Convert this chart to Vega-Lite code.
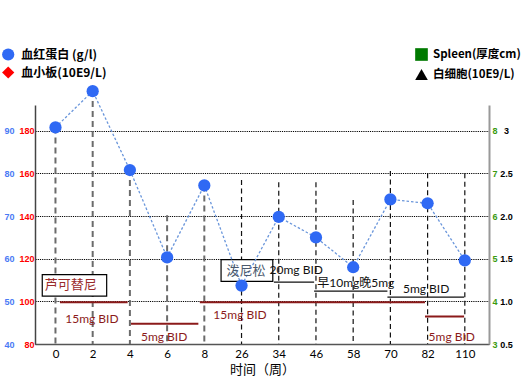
{
  "$schema": "https://vega.github.io/schema/vega-lite/v6.json",
  "width": 454,
  "height": 239,
  "autosize": {"type": "none"},
  "padding": {"left": 35, "top": 105, "right": 35, "bottom": 38},
  "background": "white",
  "config": {"view": {"stroke": null}, "font": "Noto Sans CJK SC"},
  "datasets": {
    "hb": [
      {"week": "0", "i": 0, "hb": 90.8},
      {"week": "2", "i": 1, "hb": 99.3},
      {"week": "4", "i": 2, "hb": 80.8},
      {"week": "6", "i": 3, "hb": 60.3},
      {"week": "8", "i": 4, "hb": 77.2},
      {"week": "26", "i": 5, "hb": 53.7},
      {"week": "34", "i": 6, "hb": 69.8},
      {"week": "46", "i": 7, "hb": 65.0},
      {"week": "58", "i": 8, "hb": 58.0},
      {"week": "70", "i": 9, "hb": 73.9},
      {"week": "82", "i": 10, "hb": 73.0},
      {"week": "110", "i": 11, "hb": 59.6}
    ],
    "drops": [
      {"i": 0, "top": 181.6}, {"i": 1, "top": 198.7}, {"i": 2, "top": 161.6},
      {"i": 3, "top": 140.4}, {"i": 4, "top": 154.4}, {"i": 5, "top": 156.9},
      {"i": 6, "top": 155.9}, {"i": 7, "top": 155.9}, {"i": 8, "top": 147.5},
      {"i": 9, "top": 161.1}, {"i": 10, "top": 160.1}, {"i": 11, "top": 160.1}
    ],
    "doses": [
      {"drug": "芦可替尼", "dose": "15mg BID", "i": 0.12, "i2": 1.94, "lvl": 99.6},
      {"drug": "芦可替尼", "dose": "5mg BID", "i": 2.03, "i2": 3.84, "lvl": 89.5},
      {"drug": "芦可替尼", "dose": "15mg BID", "i": 3.88, "i2": 9.93, "lvl": 99.6},
      {"drug": "芦可替尼", "dose": "5mg BID", "i": 9.93, "i2": 10.98, "lvl": 92.9},
      {"drug": "泼尼松", "dose": "20mg BID", "i": 5.87, "i2": 6.95, "lvl": 109.0},
      {"drug": "泼尼松", "dose": "早10mg晚5mg", "i": 6.95, "i2": 8.92, "lvl": 104.8},
      {"drug": "泼尼松", "dose": "5mg BID", "i": 8.92, "i2": 10.98, "lvl": 102.0}
    ],
    "doseLabels": [
      {"drug": "芦可替尼", "dose": "15mg BID", "i": 0.98, "lvl": 91.8},
      {"drug": "芦可替尼", "dose": "5mg BID", "i": 2.92, "lvl": 83.5},
      {"drug": "芦可替尼", "dose": "15mg BID", "i": 4.96, "lvl": 93.4},
      {"drug": "芦可替尼", "dose": "5mg BID", "i": 10.65, "lvl": 83.5},
      {"drug": "泼尼松", "dose": "20mg BID", "i": 6.47, "lvl": 114.9},
      {"drug": "泼尼松", "dose": "早10mg晚5mg", "i": 8.07, "lvl": 108.8},
      {"drug": "泼尼松", "dose": "5mg BID", "i": 9.96, "lvl": 105.9}
    ],
    "boxes": [
      {"drug": "芦可替尼", "i": -0.355, "i2": 1.376, "top": 112.5, "bottom": 102.5},
      {"drug": "泼尼松", "i": 4.45, "i2": 5.84, "top": 119.6, "bottom": 109.4}
    ],
    "boxLabels": [
      {"drug": "芦可替尼", "i": 0.41, "lvl": 107.5},
      {"drug": "泼尼松", "i": 5.12, "lvl": 114.3}
    ],
    "legendL": [
      {"series": "血红蛋白 (g/l)"},
      {"series": "血小板(10E9/L)"}
    ],
    "legendR": [
      {"series": "Spleen(厚度cm)"},
      {"series": "白细胞(10E9/L)"}
    ]
  },
  "layer": [
    {
      "encoding": {
        "x": {
          "field": "i",
          "type": "quantitative",
          "scale": {"domain": [-0.55, 11.65], "nice": false, "zero": false},
          "axis": {
            "title": "时间（周）",
            "titleFont": "Noto Sans CJK SC",
            "titleFontSize": 13,
            "titleFontWeight": "normal",
            "titleColor": "#000",
            "titlePadding": 4,
            "values": [0, 1, 2, 3, 4, 5, 6, 7, 8, 9, 10, 11],
            "labelExpr": "['0','2','4','6','8','26','34','46','58','70','82','110'][datum.value]",
            "labelFont": "Lato",
            "labelFontSize": 11.5,
            "labelColor": "#000",
            "labelPadding": 4,
            "ticks": false,
            "grid": false,
            "domainColor": "#555",
            "domainWidth": 1.5
          }
        }
      },
      "layer": [
        {
          "data": {"name": "drops"},
          "encoding": {
            "y": {
              "field": "top",
              "type": "quantitative",
              "scale": {"domain": [80, 192.1], "nice": false, "zero": false},
              "axis": {
                "orient": "left",
                "title": null,
                "values": [80, 100, 120, 140, 160, 180],
                "labelColor": "#FF0000",
                "labelFont": "Liberation Sans",
                "labelFontSize": 9,
                "labelFontWeight": "bold",
                "labelPadding": 1,
                "ticks": false,
                "domainColor": "#444",
                "domainWidth": 1.5,
                "grid": true,
                "gridDash": [1.2, 1],
                "gridColor": "#000",
                "gridWidth": 1.2
              }
            },
            "y2": {"datum": 80}
          },
          "layer": [
            {
              "transform": [{"filter": "datum.i <= 4"}],
              "mark": {"type": "rule", "color": "#6b6b6b", "strokeWidth": 2, "strokeDash": [6, 4]}
            },
            {
              "transform": [{"filter": "datum.i > 4"}],
              "mark": {"type": "rule", "color": "#111", "strokeWidth": 1.2, "strokeDash": [5, 3.5]}
            }
          ]
        },
        {
          "data": {"name": "doses"},
          "mark": {"type": "rule"},
          "encoding": {
            "x2": {"field": "i2"},
            "y": {
              "field": "lvl",
              "type": "quantitative",
              "scale": {"domain": [80, 192.1], "nice": false, "zero": false},
              "axis": {
                "orient": "right",
                "title": null,
                "values": [80, 100, 120, 140, 160, 180],
                "labelExpr": "(datum.value-80)/20+3",
                "labelColor": "#3A9A10",
                "labelFont": "Liberation Sans",
                "labelFontSize": 9,
                "labelFontWeight": "bold",
                "labelPadding": 3,
                "ticks": false,
                "grid": false,
                "domainColor": "#999",
                "domainWidth": 2
              }
            },
            "color": {"condition": {"test": "datum.drug == '泼尼松'", "value": "#111"}, "value": "#8B1A1A"},
            "strokeWidth": {"condition": {"test": "datum.drug == '泼尼松'", "value": 1.3}, "value": 2}
          }
        },
        {
          "data": {"name": "boxes"},
          "mark": {"type": "rect", "fill": "white", "stroke": "#000", "strokeWidth": 1.2},
          "encoding": {
            "x2": {"field": "i2"},
            "y": {
              "field": "top",
              "type": "quantitative",
              "scale": {"domain": [80, 192.1], "nice": false, "zero": false},
              "axis": null
            },
            "y2": {"field": "bottom"}
          }
        },
        {
          "data": {"name": "hb"},
          "encoding": {
            "y": {
              "field": "hb",
              "type": "quantitative",
              "scale": {"domain": [40, 96.05], "nice": false, "zero": false},
              "axis": {
                "orient": "left",
                "offset": 20,
                "title": null,
                "values": [40, 50, 60, 70, 80, 90],
                "labelColor": "#4A7AF5",
                "labelFont": "Liberation Sans",
                "labelFontSize": 9,
                "labelFontWeight": "bold",
                "labelPadding": 1,
                "ticks": false,
                "domain": false,
                "grid": false
              }
            }
          },
          "layer": [
            {"mark": {"type": "line", "color": "#6A96DB", "strokeWidth": 1.3, "strokeDash": [2.5, 2], "clip": false}},
            {"mark": {"type": "point", "filled": true, "size": 150, "color": "#2F69F4", "opacity": 1, "clip": false}}
          ]
        },
        {
          "data": {"name": "doseLabels"},
          "mark": {"type": "text", "font": "Lato, Noto Sans CJK SC", "fontSize": 12, "baseline": "middle", "align": "center"},
          "encoding": {
            "text": {"field": "dose"},
            "y": {
              "field": "lvl",
              "type": "quantitative",
              "scale": {"domain": [80, 192.1], "nice": false, "zero": false},
              "axis": {
                "orient": "right",
                "offset": 11,
                "title": null,
                "values": [80, 100, 120, 140, 160, 180],
                "labelExpr": "datum.value == 180 ? '3' : format((datum.value - 60) / 40, '.1f')",
                "labelColor": "#000",
                "labelFont": "Liberation Sans",
                "labelFontSize": 9,
                "labelFontWeight": "bold",
                "labelAlign": "center",
                "labelPadding": 6,
                "ticks": false,
                "domain": false,
                "grid": false
              }
            },
            "color": {"condition": {"test": "datum.drug == '泼尼松'", "value": "#111"}, "value": "#8B1A1A"}
          }
        },
        {
          "data": {"name": "boxLabels"},
          "mark": {"type": "text", "font": "Noto Sans CJK SC", "fontSize": 13, "baseline": "middle", "align": "center"},
          "encoding": {
            "text": {"field": "drug"},
            "y": {
              "field": "lvl",
              "type": "quantitative",
              "scale": {"domain": [80, 192.1], "nice": false, "zero": false},
              "axis": null
            },
            "color": {"condition": {"test": "datum.drug == '泼尼松'", "value": "#4B5A6E"}, "value": "#9A2A2A"}
          }
        }
      ],
      "resolve": {"scale": {"y": "independent"}, "axis": {"y": "independent"}}
    },
    {
      "data": {"name": "legendL"},
      "mark": {"type": "point", "filled": true, "size": 0, "strokeWidth": 0, "opacity": 1, "fillOpacity": 1},
      "encoding": {
        "color": {
          "field": "series",
          "type": "nominal",
          "scale": {"domain": ["血红蛋白 (g/l)", "血小板(10E9/L)"], "range": ["#2F69F4", "#FF0000"]},
          "legend": {
            "orient": "none", "legendX": -33.3, "legendY": -57, "title": null, "padding": 0,
            "symbolSize": 150, "symbolOpacity": 1, "symbolStrokeWidth": 0,
            "labelFont": "Noto Sans CJK SC", "labelFontSize": 12, "labelFontWeight": "bold", "labelColor": "#000",
            "labelOffset": 6.5, "rowPadding": 5
          }
        },
        "shape": {
          "field": "series",
          "type": "nominal",
          "scale": {"domain": ["血红蛋白 (g/l)", "血小板(10E9/L)"], "range": ["circle", "diamond"]}
        }
      }
    },
    {
      "data": {"name": "legendR"},
      "mark": {"type": "point", "filled": true, "size": 0, "strokeWidth": 0, "opacity": 1, "fillOpacity": 1},
      "encoding": {
        "color": {
          "field": "series",
          "type": "nominal",
          "scale": {"domain": ["Spleen(厚度cm)", "白细胞(10E9/L)"], "range": ["#007A00", "#000000"]},
          "legend": {
            "orient": "none", "legendX": 380, "legendY": -57, "title": null, "padding": 0,
            "symbolSize": 160, "symbolOpacity": 1, "symbolStrokeWidth": 0,
            "labelFont": "Noto Sans CJK SC", "labelFontSize": 11.5, "labelFontWeight": "bold", "labelColor": "#000",
            "labelOffset": 5, "labelLimit": 200, "rowPadding": 7
          }
        },
        "shape": {
          "field": "series",
          "type": "nominal",
          "scale": {"domain": ["Spleen(厚度cm)", "白细胞(10E9/L)"], "range": ["square", "triangle-up"]}
        }
      }
    }
  ],
  "resolve": {
    "scale": {"y": "independent", "color": "independent", "shape": "independent"},
    "axis": {"y": "independent"},
    "legend": {"color": "independent", "shape": "independent"}
  }
}
